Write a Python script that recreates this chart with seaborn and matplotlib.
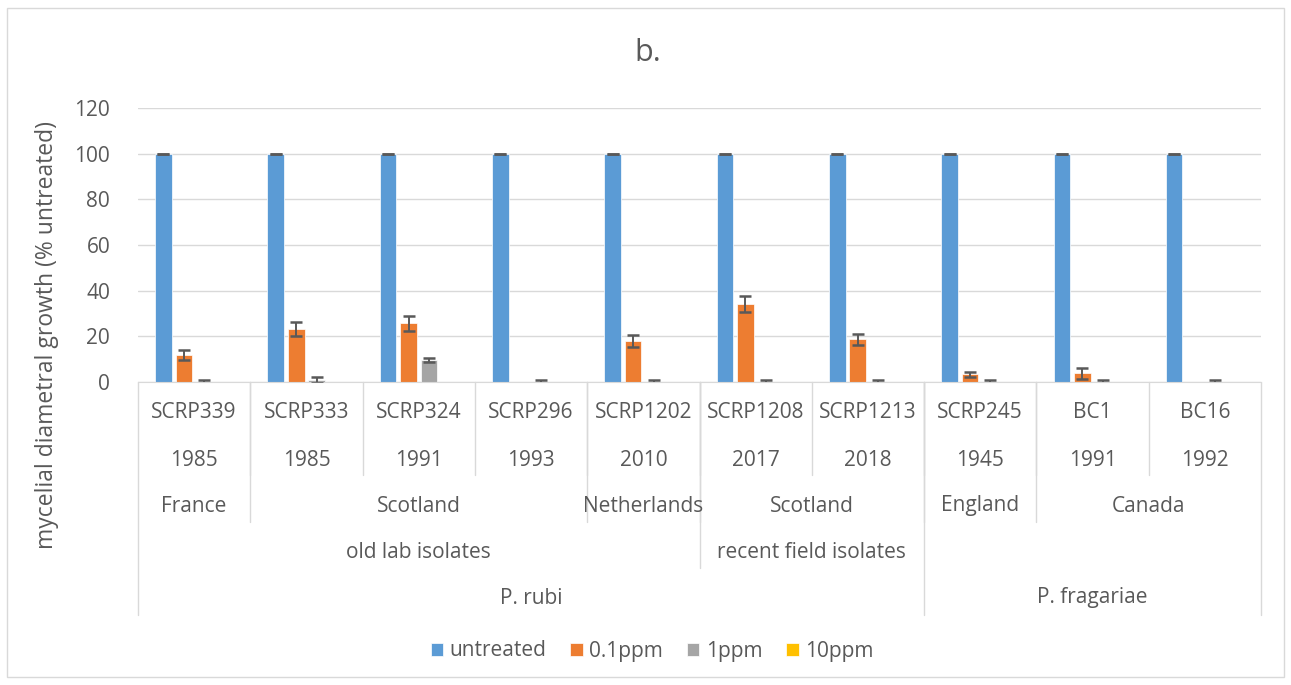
import pandas as pd
import seaborn as sns
import matplotlib.pyplot as plt
import matplotlib.transforms as mtransforms
from matplotlib.lines import Line2D
from matplotlib.patches import Rectangle

# data
isolates = ["SCRP339", "SCRP333", "SCRP324", "SCRP296", "SCRP1202",
            "SCRP1208", "SCRP1213", "SCRP245", "BC1", "BC16"]
years = ["1985", "1985", "1991", "1993", "2010", "2017", "2018", "1945", "1991", "1992"]
treatments = ["untreated", "0.1ppm", "1ppm", "10ppm"]

untreated = [100, 100, 100, 100, 100, 100, 100, 100, 100, 100]
ppm01 = [11.8, 23.2, 25.8, 0, 18.0, 34.0, 18.7, 3.4, 3.8, 0]
ppm1 = [0, 0.9, 9.6, 0, 0, 0, 0, 0, 0, 0]
ppm10 = [0, 0, 0, 0, 0, 0, 0, 0, 0, 0]

err_untreated = [0] * 10
err_ppm01 = [2.0, 3.0, 3.3, None, 2.7, 3.5, 2.5, 1.0, 2.4, None]
err_ppm1 = [1.0, 1.2, 1.0, 1.0, 1.0, 1.0, 1.0, 1.0, 1.0, 1.0]

# multi-level axis groups: (label, first index, last index)
countries = [("France", 0, 0), ("Scotland", 1, 3), ("Netherlands", 4, 4),
             ("Scotland", 5, 6), ("England", 7, 7), ("Canada", 8, 9)]
sources = [("old lab isolates", 0, 4), ("recent field isolates", 5, 6)]
species = [("P. rubi", 0, 6), ("P. fragariae", 7, 9)]

colors = ["#5B9BD5", "#ED7D31", "#A5A5A5", "#FFC000"]

rows = []
for vals, t in zip([untreated, ppm01, ppm1, ppm10], treatments):
    for iso, v in zip(isolates, vals):
        rows.append({"isolate": iso, "treatment": t, "growth": v})
df = pd.DataFrame(rows)

sns.set_style("white")
plt.rcParams["font.family"] = ["Open Sans", "DejaVu Sans"]
txt = "#595959"

W, H = 1291, 685
fig = plt.figure(figsize=(W / 100, H / 100), dpi=100)
ax = fig.add_axes([138 / W, 1 - 382 / H, (1261 - 138) / W, (382 - 108) / H])

sns.barplot(data=df, x="isolate", y="growth", hue="treatment", order=isolates,
            hue_order=treatments, palette=colors, saturation=1, width=0.73, gap=0.19,
            errorbar=None, ax=ax, legend=True, edgecolor="white", linewidth=0.5)

# error bars from the drawn bars
for cont, errs in zip(ax.containers[:3], [err_untreated, err_ppm01, err_ppm1]):
    for bar, e in zip(cont, errs):
        if e is None:
            continue
        cx = bar.get_x() + bar.get_width() / 2
        ax.errorbar(cx, bar.get_height(), yerr=e, color="#595959", capsize=4.3,
                    elinewidth=1.4, capthick=1.8, zorder=5, clip_on=True)

ax.set_ylim(0, 120)
ax.set_yticks(range(0, 121, 20))
ax.set_xlim(-0.5, len(isolates) - 0.5)
ax.yaxis.grid(True, color="#D9D9D9", linewidth=1)
ax.set_axisbelow(True)
for s in ["top", "right", "left"]:
    ax.spines[s].set_visible(False)
ax.spines["bottom"].set_color("#D9D9D9")
ax.tick_params(axis="y", length=0, labelsize=15, labelcolor=txt, pad=20)
ax.set_xticks([])
ax.set_xlabel("")
ax.set_ylabel("")

# category axis below the plot
tr = mtransforms.blended_transform_factory(ax.transData, fig.transFigure)
fy = lambda px: 1 - px / H
line_kw = dict(color="#D9D9D9", linewidth=1, transform=tr, clip_on=False)
fs = 15

for i, (iso, yr) in enumerate(zip(isolates, years)):
    ax.text(i, fy(412), iso, ha="center", va="center", fontsize=fs, color=txt, transform=tr)
    ax.text(i, fy(460), yr, ha="center", va="center", fontsize=fs, color=txt, transform=tr)
    if i > 0:
        ax.add_line(Line2D([i - 0.5, i - 0.5], [fy(382), fy(475)], **line_kw))

for lab, a, b in countries:
    ax.text((a + b) / 2, fy(506), lab, ha="center", va="center", fontsize=fs, color=txt, transform=tr)
    if a > 0:
        ax.add_line(Line2D([a - 0.5, a - 0.5], [fy(382), fy(522)], **line_kw))

for lab, a, b in sources:
    ax.text((a + b) / 2, fy(553), lab, ha="center", va="center", fontsize=fs, color=txt, transform=tr)
    if a > 0:
        ax.add_line(Line2D([a - 0.5, a - 0.5], [fy(382), fy(568)], **line_kw))

for lab, a, b in species:
    ax.text((a + b) / 2, fy(598), lab, ha="center", va="center", fontsize=fs, color=txt, transform=tr)
    ax.add_line(Line2D([a - 0.5, a - 0.5], [fy(382), fy(615)], **line_kw))
ax.add_line(Line2D([len(isolates) - 0.5] * 2, [fy(382), fy(615)], **line_kw))

# title and y label
fig.text(648 / W, fy(53), "b.", ha="center", va="center", fontsize=22, color=txt)
fig.text(47 / W, fy(335), "mycelial diametral growth (% untreated)", rotation=90,
         ha="center", va="center", fontsize=16.5, color=txt)

# legend
handles, labels = ax.get_legend_handles_labels()
ax.get_legend().remove()
fig.legend(handles, labels, loc="center", bbox_to_anchor=(652 / W, fy(651)), ncol=4,
           frameon=False, fontsize=15, handlelength=0.6, handleheight=0.6,
           handletextpad=0.3, columnspacing=1.15, labelcolor=txt)

# outer chart border
fig.patches.append(Rectangle((7 / W, fy(677)), (1284 - 7) / W, (677 - 8) / H,
                             transform=fig.transFigure, fill=False,
                             edgecolor="#D9D9D9", linewidth=1))

fig.savefig("out.png", dpi=100)
